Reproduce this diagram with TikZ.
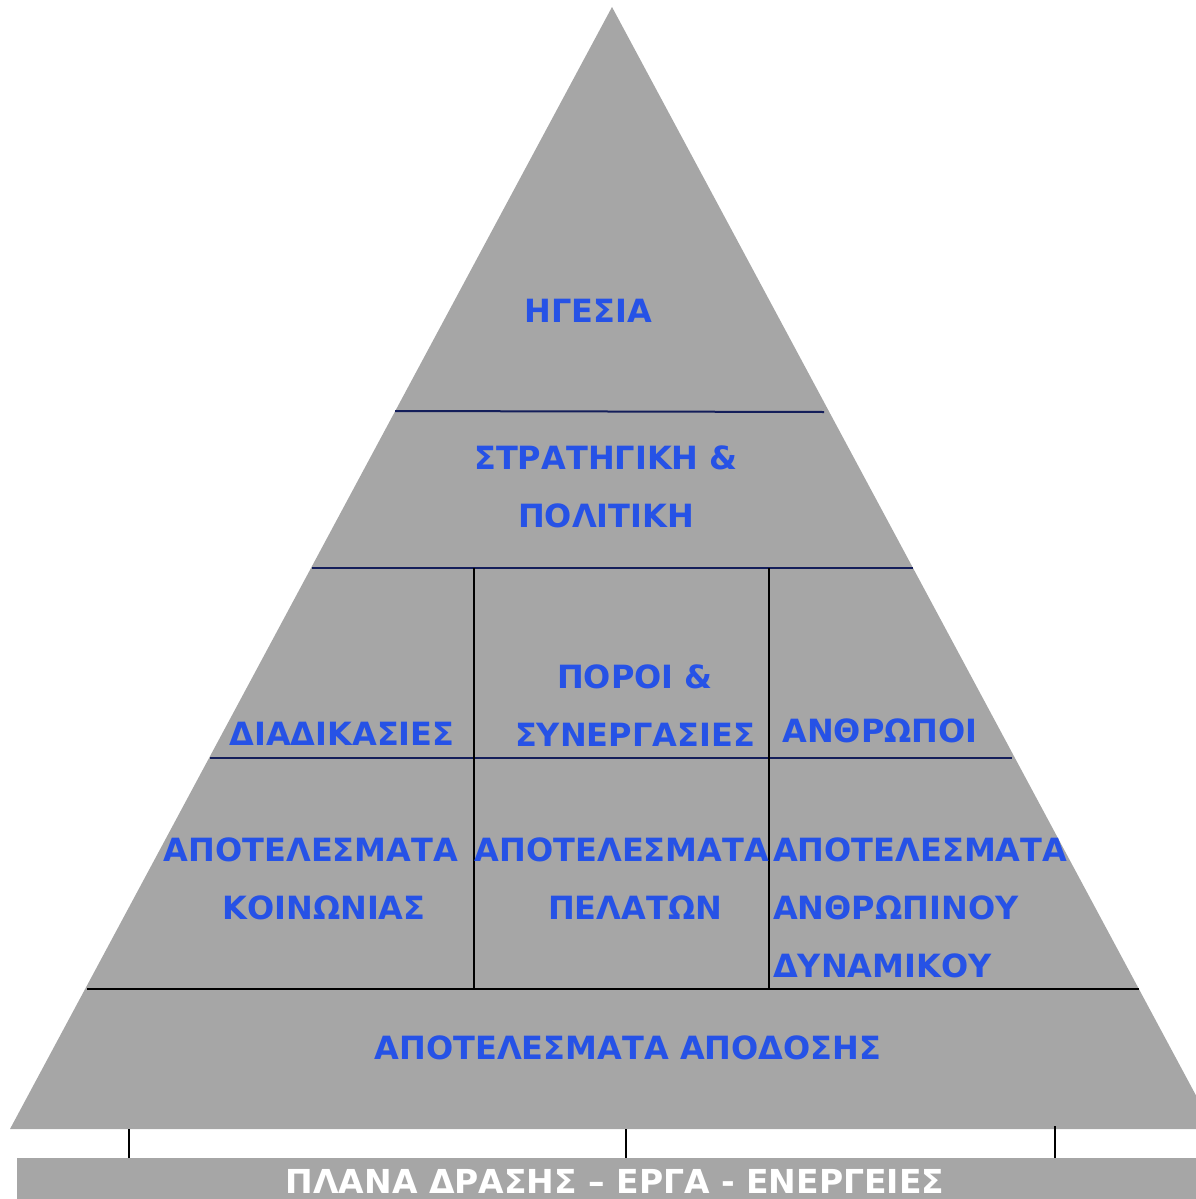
\documentclass[tikz,border=0pt]{standalone}
\usepackage{fontspec}
\setmainfont{DejaVu Sans}
\definecolor{pyrgray}{RGB}{166,166,166}
\definecolor{pyrblue}{RGB}{38,82,230}
\definecolor{pyrnavy}{RGB}{20,30,90}
\begin{document}
\begin{tikzpicture}[x=1pt,y=-1pt,
  lbl/.style={text=pyrblue,font=\bfseries\fontsize{32}{58}\selectfont,inner sep=0pt,align=center},
  lbll/.style={lbl,align=left,anchor=west},
  navyline/.style={draw=pyrnavy,line width=2pt},
  blackline/.style={draw=black,line width=1.8pt},
  tick/.style={draw=black,line width=1.6pt}]
\useasboundingbox (0,0) rectangle (1196,1199);
\begin{scope}
\clip (0,0) rectangle (1196,1199);
\fill[pyrgray] (612,7) -- (10,1129) -- (1214,1129) -- cycle;
\fill[pyrgray] (17,1158) rectangle (1200,1199);
\end{scope}
% coordinates
\coordinate (a1) at (395,411); \coordinate (a2) at (824,412);
\coordinate (b1) at (312,568); \coordinate (b2) at (913,568);
\coordinate (c1) at (210,758); \coordinate (c2) at (1012,758);
\coordinate (d1) at (87,989);  \coordinate (d2) at (1139,989);
\coordinate (v1t) at (474,568); \coordinate (v1b) at (474,989);
\coordinate (v2t) at (769,568); \coordinate (v2b) at (769,989);
\coordinate (t1t) at (129,1129); \coordinate (t1b) at (129,1158);
\coordinate (t2t) at (626,1129); \coordinate (t2b) at (626,1158);
\coordinate (t3t) at (1055,1126); \coordinate (t3b) at (1055,1158);
\draw[navyline] (a1) -- (a2);
\draw[navyline] (b1) -- (b2);
\draw[navyline] (c1) -- (c2);
\draw[blackline] (d1) -- (d2);
\draw[blackline] (v1t) -- (v1b);
\draw[blackline] (v2t) -- (v2b);
\draw[tick] (t1t) -- (t1b);
\draw[tick] (t2t) -- (t2b);
\draw[tick] (t3t) -- (t3b);
% labels
\node[lbl] (hgesia) at (588,311) {ΗΓΕΣΙΑ};
\node[lbl] (strat) at (606,487) {ΣΤΡΑΤΗΓΙΚΗ \&\\ΠΟΛΙΤΙΚΗ};
\node[lbl] (poroi) at (635,706) {ΠΟΡΟΙ \&\\ΣΥΝΕΡΓΑΣΙΕΣ};
\node[lbl] (diad) at (342,734) {ΔΙΑΔΙΚΑΣΙΕΣ};
\node[lbl] (anthr) at (880,731) {ΑΝΘΡΩΠΟΙ};
\node[lbl] (apkoin1) at (311,850) {ΑΠΟΤΕΛΕΣΜΑΤΑ};
\node[lbl] (apkoin2) at (324,908) {ΚΟΙΝΩΝΙΑΣ};
\node[lbl] (appel1) at (622,850) {ΑΠΟΤΕΛΕΣΜΑΤΑ};
\node[lbl] (appel2) at (635,908) {ΠΕΛΑΤΩΝ};
\node[lbll] (apanth) at (773,908) {ΑΠΟΤΕΛΕΣΜΑΤΑ\\ΑΝΘΡΩΠΙΝΟΥ\\ΔΥΝΑΜΙΚΟΥ};
\node[lbl] (apod) at (628,1048) {ΑΠΟΤΕΛΕΣΜΑΤΑ ΑΠΟΔΟΣΗΣ};
\node[lbl,text=white,font=\bfseries\fontsize{33}{40}\selectfont] (plana) at (615,1181) {ΠΛΑΝΑ ΔΡΑΣΗΣ – ΕΡΓΑ - ΕΝΕΡΓΕΙΕΣ};
\end{tikzpicture}
\end{document}
